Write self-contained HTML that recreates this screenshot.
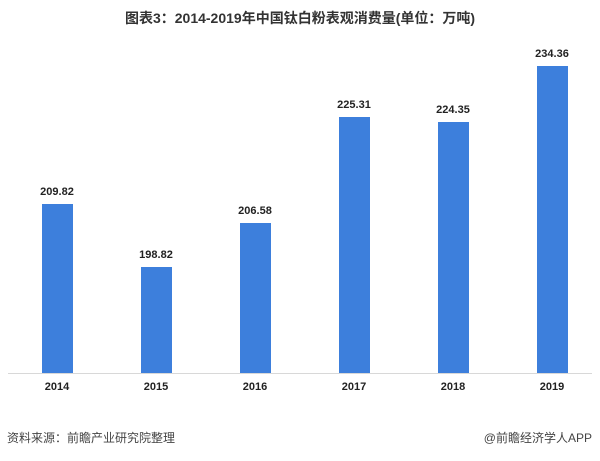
<html><head><style>
body{margin:0;width:600px;height:461px;background:#fff;font-family:"Liberation Sans","Noto Sans CJK SC",sans-serif;position:relative;overflow:hidden}
.t{position:absolute;top:8px;left:0;width:600px;text-align:center;font-weight:bold;font-size:14px;color:#333}
.b{position:absolute;width:31px;background:#3d7fdc;bottom:88px}
.v,.x{position:absolute;width:70px;text-align:center;font-size:11px;font-weight:bold;color:#222}
.base{position:absolute;left:8px;width:584px;top:373px;height:1px;background:#d8d8d8}
.s{position:absolute;font-size:12px;color:#444;top:429px}
</style></head><body>
<div class="t">图表3：2014-2019年中国钛白粉表观消费量(单位：万吨)</div>
<div class="base"></div>
<div class="b" style="left:42px;top:204px"></div><div class="v" style="left:22px;top:186px">209.82</div><div class="x" style="left:22px;top:381px">2014</div>
<div class="b" style="left:141px;top:267px"></div><div class="v" style="left:121px;top:249px">198.82</div><div class="x" style="left:121px;top:381px">2015</div>
<div class="b" style="left:240px;top:223px"></div><div class="v" style="left:220px;top:205px">206.58</div><div class="x" style="left:220px;top:381px">2016</div>
<div class="b" style="left:339px;top:117px"></div><div class="v" style="left:319px;top:99px">225.31</div><div class="x" style="left:319px;top:381px">2017</div>
<div class="b" style="left:438px;top:122px"></div><div class="v" style="left:418px;top:104px">224.35</div><div class="x" style="left:418px;top:381px">2018</div>
<div class="b" style="left:537px;top:66px"></div><div class="v" style="left:517px;top:48px">234.36</div><div class="x" style="left:517px;top:381px">2019</div>
<div class="s" style="left:7px">资料来源：前瞻产业研究院整理</div>
<div class="s" style="right:8px">@前瞻经济学人APP</div>
</body></html>
